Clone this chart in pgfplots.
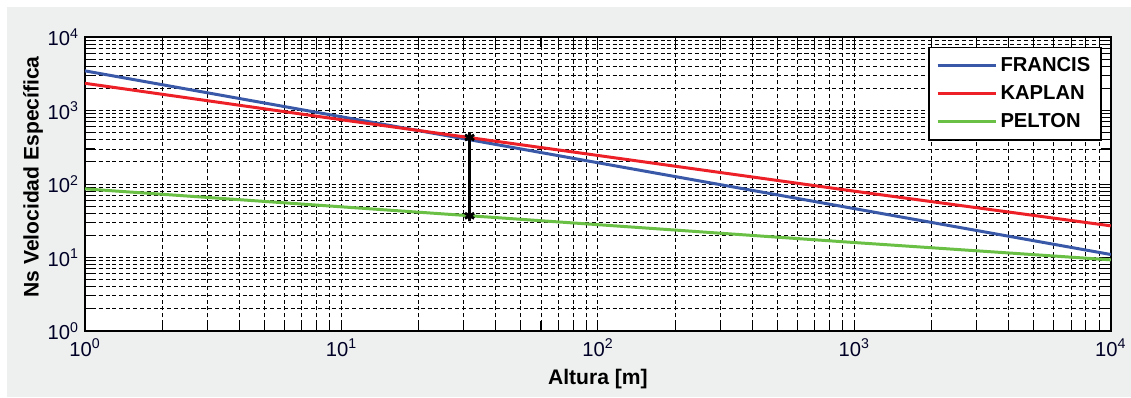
\documentclass[border=0pt]{standalone}
\usepackage{pgfplots}
\pgfplotsset{compat=1.18}
\usepackage{fontspec}
\setmainfont{Liberation Sans}
\definecolor{bggray}{RGB}{238,240,239}
\definecolor{mblue}{RGB}{58,88,168}
\definecolor{mred}{RGB}{238,32,39}
\definecolor{mgreen}{RGB}{106,191,69}
\begin{document}
\begin{tikzpicture}[x=0.02cm,y=0.02cm]
\useasboundingbox (0,0) rectangle (1131,397);
\fill[white] (0,0) rectangle (1131,397);
\fill[bggray] (7,0) rectangle (1131,390);
\begin{axis}[
  at={(1.70cm,1.32cm)}, anchor=south west,
  scale only axis, width=20.52cm, height=5.88cm,
  xmode=log, ymode=log,
  xmin=1, xmax=10000, ymin=1, ymax=10000,
  axis background/.style={fill=white},
  xtick={1,10,100,1000,10000},
  ytick={1,10,100,1000,10000},
  xticklabels={10\textsuperscript{0},10\textsuperscript{1},10\textsuperscript{2},10\textsuperscript{3},10\textsuperscript{4}},
  yticklabels={10\textsuperscript{0},10\textsuperscript{1},10\textsuperscript{2},10\textsuperscript{3},10\textsuperscript{4}},
  minor xtick={2,3,4,5,6,7,8,9,20,30,40,50,60,70,80,90,200,300,400,500,600,700,800,900,2000,3000,4000,5000,6000,7000,8000,9000},
  minor ytick={2,3,4,5,6,7,8,9,20,30,40,50,60,70,80,90,200,300,400,500,600,700,800,900,2000,3000,4000,5000,6000,7000,8000,9000},
  grid=both,
  major grid style={black, line width=0.55pt, dash pattern=on 2.3pt off 1.6pt},
  minor grid style={black, line width=0.55pt, dash pattern=on 2.3pt off 1.6pt},
  tick align=inside, xtick pos=both, ytick pos=both,
  major tick length=0.2cm, minor tick length=0.2cm,
  tick style={black, line width=0.6pt},
  axis line style={black, line width=0.9pt},
  tick label style={font=\fontsize{11.5}{13}\selectfont, text=black!85!blue},
  xticklabel style={yshift=-1pt},
  xlabel={Altura [m]},
  ylabel={Ns Velocidad Específica},
  label style={font=\fontsize{12}{14}\selectfont\bfseries},
  x label style={at={(axis description cs:0.5,-0.163)}, anchor=center},
  y label style={at={(axis description cs:-0.0507,0.524)}, anchor=center},
  legend style={at={(rel axis cs:0.991,0.966)}, anchor=north east,
    draw=black, line width=0.8pt, fill=white,
    font=\fontsize{11.5}{13}\selectfont\bfseries,
    inner xsep=4pt, inner ysep=3.5pt, row sep=2.5pt,
    /tikz/every even column/.append style={column sep=3pt}},
  legend cell align=left,
  legend image code/.code={\draw[#1, line width=1.7pt] (0cm,0cm) -- (1.16cm,0cm);},
]
\addplot[mblue, line width=1.7pt] coordinates {(1,3470) (10,823) (100,195) (1000,46.3) (10000,11)};
\addlegendentry{FRANCIS}
\addplot[mred, line width=1.7pt] coordinates {(1,2350) (10,750) (100,245) (1000,80) (10000,27)};
\addlegendentry{KAPLAN}
\addplot[mgreen, line width=1.7pt] coordinates {(1,86) (10,49) (100,28) (1000,16) (10000,9.3)};
\addlegendentry{PELTON}
\addplot[black, line width=1.6pt, mark=asterisk, mark size=3pt, forget plot] coordinates {(31.6,37) (31.6,430)};
\end{axis}
\end{tikzpicture}
\end{document}
